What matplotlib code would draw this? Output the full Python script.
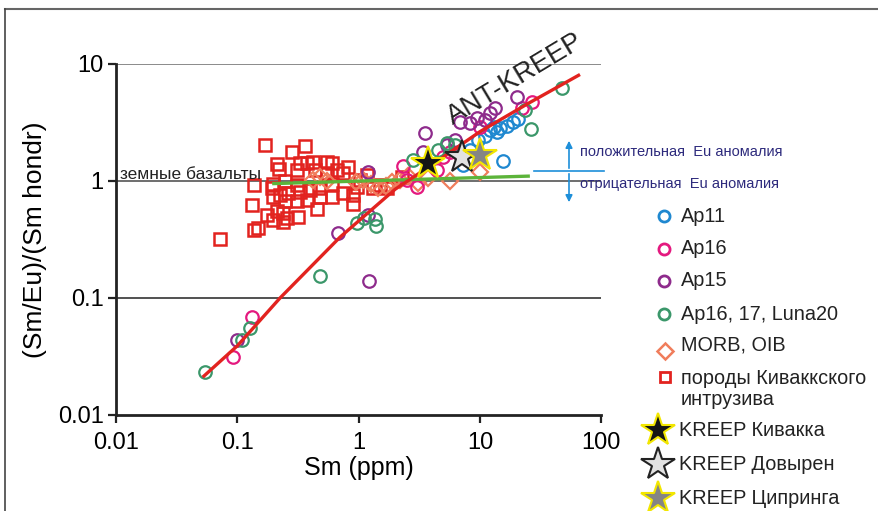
import numpy as np
import matplotlib
matplotlib.use("Agg")
import matplotlib.pyplot as plt

plt.rcParams['font.family'] = ['Liberation Sans', 'DejaVu Sans']

# --- data (Sm ppm, (Sm/Eu)/(Sm hondr)) ---
ap11_x = [7.27, 15.5, 9.68, 11.0, 12.2, 13.1, 14.7, 16.8, 18.8, 20.7, 13.9, 8.3]
ap11_y = [1.37, 1.48, 2.24, 2.42, 2.73, 2.89, 2.84, 2.95, 3.19, 3.39, 2.62, 1.84]

ap16_x = [0.0923, 0.132, 2.33, 2.51, 3.04, 4.98, 5.69, 6.87, 10.0, 22.3, 27.0, 4.44]
ap16_y = [0.0313, 0.0688, 1.34, 1.02, 0.89, 1.60, 1.77, 1.67, 2.89, 4.21, 4.73, 1.24]

ap15_x = [0.0995, 0.678, 1.20, 1.22, 1.20, 3.53, 3.40, 5.37, 6.25, 6.87, 8.31, 9.49,
          12.2, 13.4, 20.3, 11.0]
ap15_y = [0.0438, 0.36, 0.51, 0.140, 1.19, 2.57, 1.77, 2.03, 2.24, 3.19, 3.13, 3.45,
          3.81, 4.21, 5.22, 3.32]

luna_x = [0.0537, 0.109, 0.127, 0.481, 0.97, 1.11, 1.37, 1.39, 2.81, 5.37, 6.25, 4.53,
          26.5, 47.6, 23.6]
luna_y = [0.0233, 0.0438, 0.0554, 0.154, 0.438, 0.483, 0.473, 0.412, 1.51, 2.11, 2.03,
          1.84, 2.78, 6.24, 4.04]

morb_x = [0.421, 0.481, 0.550, 0.95, 1.09, 1.27, 1.45, 1.69, 1.89, 2.20, 2.56, 3.10,
          3.74, 5.69, 10.0]
morb_y = [1.02, 1.08, 1.00, 0.98, 1.02, 0.94, 0.87, 0.91, 0.98, 1.02, 1.10, 0.96,
          1.06, 1.00, 1.19]

kiv_x = [0.169, 0.281, 0.362, 0.211, 0.221, 0.309, 0.330, 0.374, 0.421, 0.438, 0.547,
         0.601, 0.661, 0.824, 0.750, 0.547, 0.136, 0.132, 0.192, 0.198, 0.225, 0.264,
         0.330, 0.398, 0.481, 0.601, 0.750, 0.906, 0.906, 0.452, 0.374, 0.309, 0.248,
         0.211, 0.175, 0.240, 0.319, 0.256, 0.198, 0.149, 0.136, 0.072, 0.240, 1.03,
         1.17, 0.97, 1.32, 1.50, 1.71, 0.601, 0.467, 0.309, 0.248, 0.198, 2.27]
kiv_y = [2.03, 1.78, 1.99, 1.39, 1.27, 1.24, 1.42, 1.43, 1.46, 1.24, 1.46,
         1.42, 1.24, 1.32, 1.16, 1.16, 0.92, 0.62, 0.87, 0.73, 0.76, 0.79,
         0.81, 0.84, 0.73, 0.73, 0.79, 0.76, 0.64, 0.58, 0.69, 0.67, 0.67,
         0.55, 0.51, 0.53, 0.49, 0.48, 0.46, 0.40, 0.38, 0.32, 0.45, 1.02,
         1.13, 0.89, 0.87, 0.92, 0.87, 0.95, 0.87, 0.92, 0.99, 0.95, 1.09]

# ANT-KREEP trend and terrestrial basalts line
ant_x = [0.053, 0.1, 0.225, 0.7, 2.0, 4.0, 10.0, 25.0, 65.0]
ant_y = [0.0215, 0.039, 0.1, 0.33, 0.85, 1.37, 2.64, 4.6, 8.0]
bas_x = [0.2, 25.0]
bas_y = [0.95, 1.1]

# KREEP stars
star_names = ['KREEP Кивакка', 'KREEP Довырен', 'KREEP Ципринга']
star_x = [3.74, 7.14, 10.0]
star_y = [1.43, 1.60, 1.67]
star_fc = ['#151515', '#e2e2e2', '#858585']
star_ec = ['#f2e600', '#222222', '#f2e600']

circ_sets = [(ap11_x, ap11_y, '#1f88d0', 'Ap11'),
             (ap16_x, ap16_y, '#e4197f', 'Ap16'),
             (ap15_x, ap15_y, '#8e2b8c', 'Ap15'),
             (luna_x, luna_y, '#3b976a', 'Ap16, 17, Luna20')]
morb_col = '#f07d5c'
kiv_col = '#e2231f'

fig = plt.figure(figsize=(8.79, 5.11), dpi=100)
ax = fig.add_axes([0.1320, 0.1879, 0.5520, 0.6869])

ax.plot(kiv_x, kiv_y, 's', ms=8, mfc='none', mec=kiv_col, mew=1.8, ls='none', zorder=2)
ax.plot(morb_x, morb_y, 'D', ms=8, mfc='none', mec=morb_col, mew=1.6, ls='none', zorder=3)
for xs, ys, col, lab in circ_sets:
    ax.plot(xs, ys, 'o', ms=9, mfc='none', mec=col, mew=1.6, ls='none', zorder=3)
ax.plot(bas_x, bas_y, color='#5cb43a', lw=2.4, zorder=4)
ax.plot(ant_x, ant_y, color='#e2231f', lw=2.4, zorder=4)
for i in range(3):
    ax.plot(star_x[i], star_y[i], '*', ms=25, mfc=star_fc[i], mec=star_ec[i],
            mew=1.5, zorder=5)

ax.set_xscale('log')
ax.set_yscale('log')
ax.set_xlim(0.01, 100)
ax.set_ylim(0.01, 10)
ax.set_xticks([0.01, 0.1, 1, 10, 100])
ax.set_xticklabels(['0.01', '0.1', '1', '10', '100'])
ax.set_yticks([0.01, 0.1, 1, 10])
ax.set_yticklabels(['0.01', '0.1', '1', '10'])
ax.minorticks_off()
ax.tick_params(axis='both', labelsize=17, width=1.6, length=6, color='#222')
ax.tick_params(axis='x', pad=6)
ax.tick_params(axis='y', pad=3)
for y, c in [(10, '#777777'), (1, '#555555'), (0.1, '#333333')]:
    ax.axhline(y, color=c, lw=1.2, zorder=1)
ax.spines['top'].set_visible(False)
ax.spines['right'].set_visible(False)
ax.spines['left'].set_linewidth(2)
ax.spines['bottom'].set_linewidth(2)
ax.spines['left'].set_color('#222')
ax.spines['bottom'].set_color('#222')
ax.set_xlabel('Sm (ppm)', fontsize=18, labelpad=2)
ax.set_ylabel('(Sm/Eu)/(Sm hondr)', fontsize=19, labelpad=8)

# overlay in pixel units for annotations, legend and the outer frame
ov = fig.add_axes([0, 0, 1, 1])
ov.set_xlim(0, 879)
ov.set_ylim(511, 0)
ov.axis('off')

ov.plot([5, 879], [9, 9], color='#666666', lw=1.5)
ov.plot([5, 5], [9, 511], color='#444444', lw=1.2)

ov.text(120, 179, 'земные базальты', fontsize=12.5, color='#222', va='baseline')
ov.text(515, 79, 'ANT-KREEP', fontsize=19.5, color='#222', rotation=31,
        ha='center', va='center', rotation_mode='anchor')

eu_col = '#1e8fd9'
ov.plot([534, 604], [171, 171], color=eu_col, lw=1.2)
ov.annotate('', xy=(569, 138), xytext=(569, 171),
            arrowprops=dict(arrowstyle='-|>', color=eu_col, lw=1.2, mutation_scale=10))
ov.annotate('', xy=(569, 205), xytext=(569, 171),
            arrowprops=dict(arrowstyle='-|>', color=eu_col, lw=1.2, mutation_scale=10))
ov.text(580, 152, 'положительная  Eu аномалия', fontsize=10.5, color='#2d2a7c', va='center')
ov.text(580, 184, 'отрицательная  Eu аномалия', fontsize=10.5, color='#2d2a7c', va='center')

# legend
leg_fs = 14.3
circ_rows = [216, 249, 281, 314]
for (xs, ys, col, lab), yy in zip(circ_sets, circ_rows):
    ov.plot(664, yy, 'o', ms=8, mfc='none', mec=col, mew=2)
    ov.text(681, yy, lab, fontsize=leg_fs, va='center', color='#222')
ov.plot(665, 351, 'D', ms=8, mfc='none', mec=morb_col, mew=1.8)
ov.text(681, 345, 'MORB, OIB', fontsize=leg_fs, va='center', color='#222')
ov.plot(665, 377, 's', ms=6.5, mfc='none', mec=kiv_col, mew=2)
ov.text(681, 389, 'породы Киваккского\nинтрузива', fontsize=leg_fs, va='center',
        color='#222', linespacing=1.15)
for i, yy in enumerate([430, 464, 498]):
    ov.plot(658, yy, '*', ms=25, mfc=star_fc[i], mec=star_ec[i], mew=1.5)
    ov.text(679, yy + 1, star_names[i], fontsize=leg_fs, va='center', color='#222')

fig.savefig('out.png', dpi=100)
